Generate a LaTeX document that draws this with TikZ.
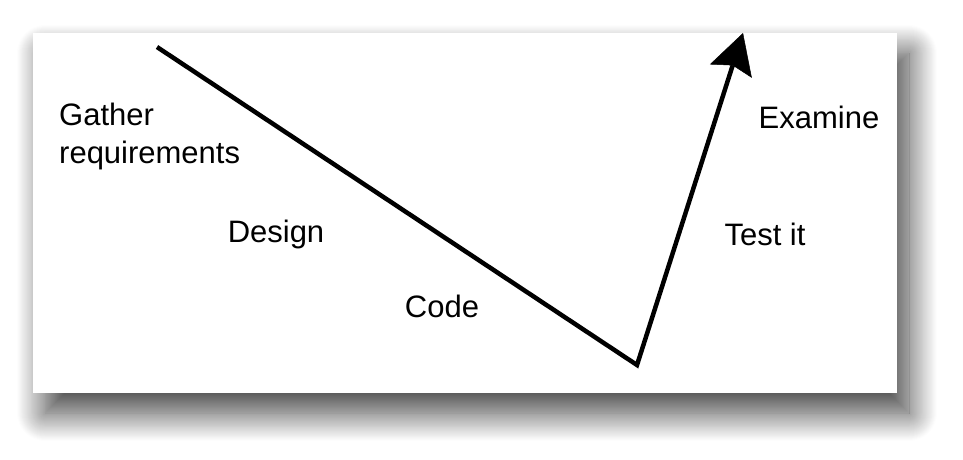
\documentclass[tikz,border=0pt]{standalone}
\usepackage{fontspec}
\setmainfont{Liberation Sans}
\usetikzlibrary{arrows.meta,shadows.blur}
\begin{document}
\begin{tikzpicture}[x=1pt,y=-1pt,
  lbl/.style={font=\fontsize{31}{38}\selectfont, inner sep=0pt},
  vline/.style={line width=4.5pt, line join=miter, -{Stealth[length=40pt,width=44pt,inset=6pt,line width=0.5pt,fill=black]}}]
\useasboundingbox (0,0) rectangle (963,459);
\path[fill=white, blur shadow={shadow xshift=12pt, shadow yshift=-20pt, shadow blur radius=28pt, shadow opacity=75, shadow blur steps=30}]
  (33,33) rectangle (897,393);
\coordinate (start) at (157,47);
\coordinate (bottom) at (637,365);
\coordinate (tip) at (743,33);
\draw[vline] (start) -- (bottom) -- (tip);
\node[lbl, align=left, anchor=west] (gather) at (59,136) {Gather\\requirements};
\node[lbl] (design) at (276,234) {Design};
\node[lbl] (code) at (442,306) {Code};
\node[lbl] (test) at (765,234) {Test it};
\node[lbl] (examine) at (819,117) {Examine};
\end{tikzpicture}
\end{document}
